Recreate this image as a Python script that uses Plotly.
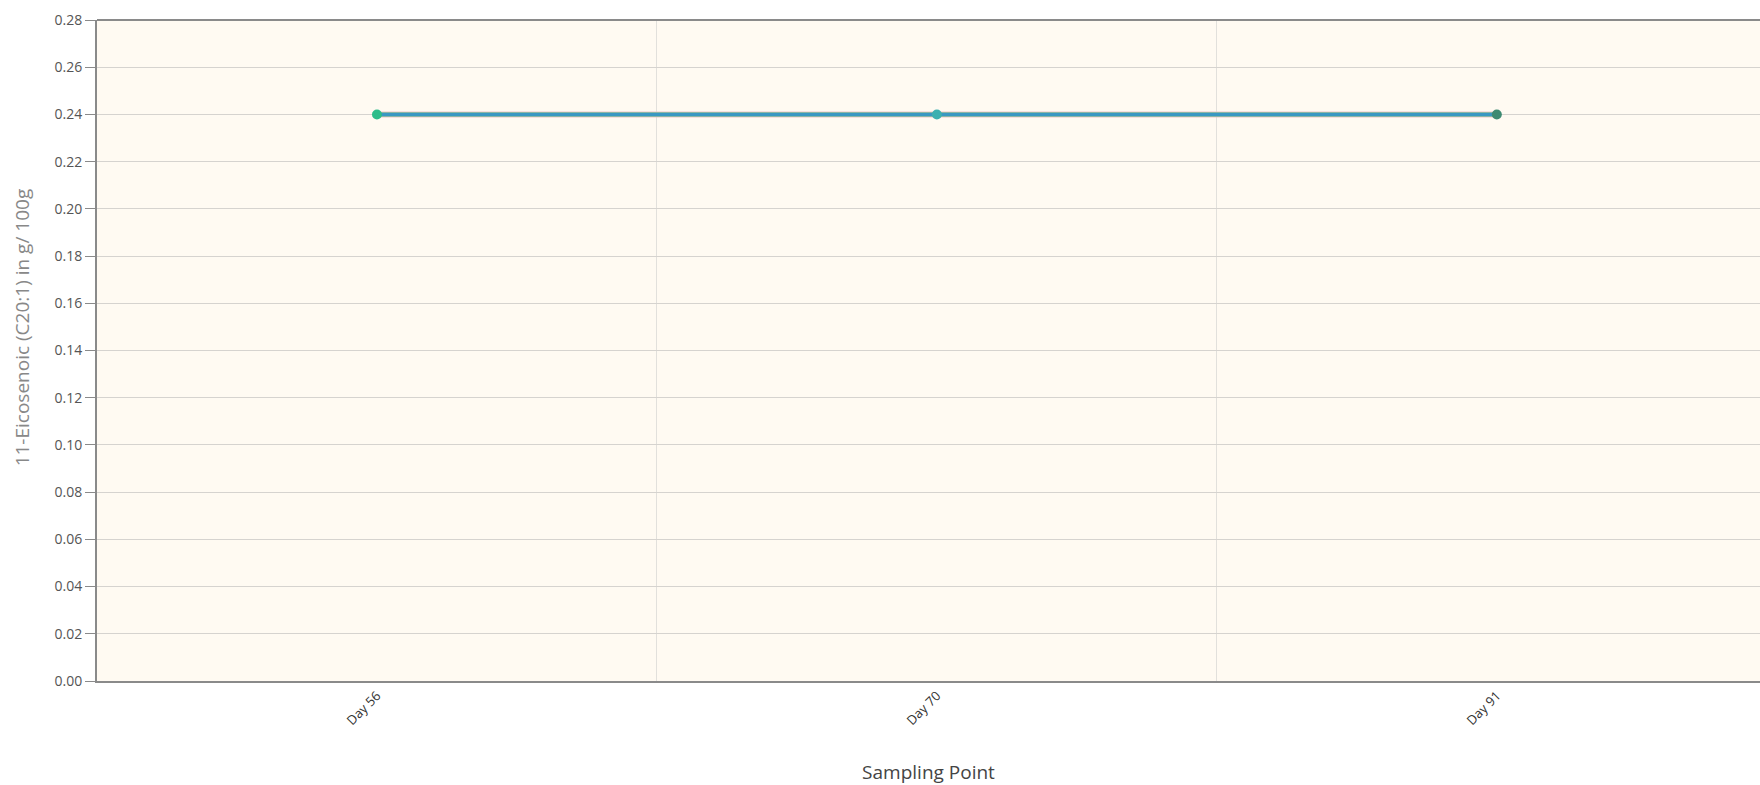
import plotly.graph_objects as go

categories = ["Day 56", "Day 70", "Day 91"]
series_red = [0.24, 0.24, 0.24]
series_green = [0.24, 0.24, 0.24]
series_blue = [0.24, 0.24, 0.24]
y_ticks = [round(i * 0.02, 2) for i in range(15)]

fig = go.Figure()
fig.add_trace(go.Scatter(x=categories, y=series_red, mode="lines",
                         line=dict(color="#efc3c8", width=6), showlegend=False))
fig.add_trace(go.Scatter(x=categories, y=series_green, mode="lines",
                         line=dict(color="#2aa884", width=4), showlegend=False))
fig.add_trace(go.Scatter(x=categories, y=series_blue, mode="lines+markers",
                         line=dict(color="#3a98c2", width=3),
                         marker=dict(color=["#2dbd8a", "#3cb0b0", "#3e8a72"], size=10),
                         showlegend=False))

fig.update_layout(
    width=1760, height=785,
    margin=dict(l=97, r=0, t=20, b=104),
    paper_bgcolor="white",
    plot_bgcolor="#fffaf2",
    font=dict(family="Open Sans, DejaVu Sans, sans-serif", color="#555"),
    xaxis=dict(
        type="category", range=[-0.5, 2.47], tickson="boundaries",
        showgrid=True, gridcolor="#e2e0dc", gridwidth=1,
        showline=True, linecolor="#8a8a8a", linewidth=2,
        ticks="", tickangle=-45, tickfont=dict(size=13, color="#333"),
        title=dict(text="Sampling Point", font=dict(size=19, color="#444"), standoff=40),
        zeroline=False,
    ),
    yaxis=dict(
        range=[0, 0.28], tickvals=y_ticks, tickformat=".2f",
        showgrid=True, gridcolor="#d6d3cf", gridwidth=1,
        showline=True, linecolor="#8a8a8a", linewidth=2,
        ticks="outside", ticklen=10, tickcolor="#8a8a8a",
        tickfont=dict(size=14, color="#555"),
        zeroline=False,
    ),
    annotations=[dict(text="11-Eicosenoic (C20:1) in g/ 100g", textangle=-90,
                      xref="paper", yref="paper", x=0, y=0.535,
                      xanchor="center", yanchor="middle", xshift=-75,
                      showarrow=False, font=dict(size=19, color="#888"))],
    shapes=[dict(type="line", xref="paper", yref="paper", x0=0, x1=1, y0=1, y1=1,
                 line=dict(color="#8a8a8a", width=2))],
)

fig.write_html("out.html", config={"displayModeBar": False},
               post_script="document.body.style.margin='0';document.body.style.overflow='hidden';")
